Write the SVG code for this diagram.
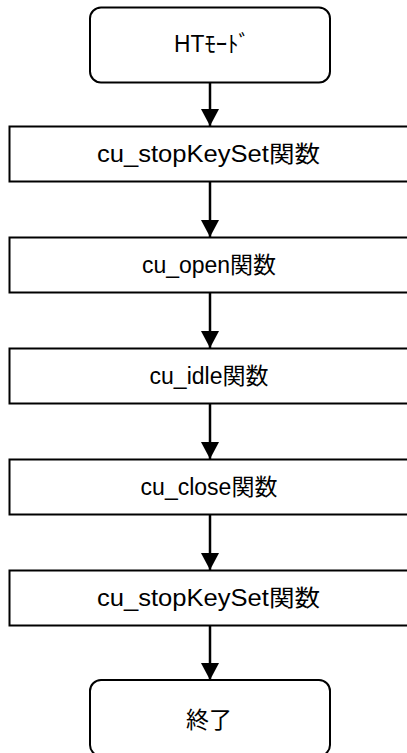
<svg xmlns="http://www.w3.org/2000/svg" width="407" height="753" viewBox="0 0 407 753">
<style>
.box{fill:#fff;stroke:#000;stroke-width:2}
.lbl{font-family:"Liberation Sans","Noto Sans CJK JP",sans-serif;font-size:23px;fill:#000;text-anchor:middle}
.edge{stroke:#000;stroke-width:2.5;fill:none}
</style>
<defs>
<marker id="arr" markerUnits="userSpaceOnUse" markerWidth="18" markerHeight="18" viewBox="0 0 18 18" refX="17" refY="9" orient="auto">
<path d="M0,0 L17,9 L0,18 Z" fill="#000"/>
</marker>
</defs>
<rect width="407" height="753" fill="#fff"/>
<g id="edges">
<line class="edge" x1="210" y1="82" x2="210" y2="126" marker-end="url(#arr)"/>
<line class="edge" x1="210" y1="182" x2="210" y2="237" marker-end="url(#arr)"/>
<line class="edge" x1="210" y1="293" x2="210" y2="348" marker-end="url(#arr)"/>
<line class="edge" x1="210" y1="404" x2="210" y2="459" marker-end="url(#arr)"/>
<line class="edge" x1="210" y1="515" x2="210" y2="570" marker-end="url(#arr)"/>
<line class="edge" x1="210" y1="626" x2="210" y2="680" marker-end="url(#arr)"/>
</g>
<g id="start">
<rect class="box" x="90" y="7.5" width="240" height="75" rx="11"/>
<text class="lbl" x="212" y="52" textLength="76" lengthAdjust="spacingAndGlyphs">HTﾓｰﾄﾞ</text>
</g>
<g id="n1">
<rect class="box" x="9.5" y="126.5" width="402" height="55"/>
<text class="lbl" x="208.5" y="162" textLength="223" lengthAdjust="spacingAndGlyphs">cu_stopKeySet関数</text>
</g>
<g id="n2">
<rect class="box" x="9.5" y="237.5" width="402" height="55"/>
<text class="lbl" x="209" y="273">cu_open関数</text>
</g>
<g id="n3">
<rect class="box" x="9.5" y="348.5" width="402" height="55"/>
<text class="lbl" x="209" y="384">cu_idle関数</text>
</g>
<g id="n4">
<rect class="box" x="9.5" y="459.5" width="402" height="55"/>
<text class="lbl" x="209" y="495">cu_close関数</text>
</g>
<g id="n5">
<rect class="box" x="9.5" y="570.5" width="402" height="55"/>
<text class="lbl" x="208.5" y="606" textLength="223" lengthAdjust="spacingAndGlyphs">cu_stopKeySet関数</text>
</g>
<g id="end">
<rect class="box" x="90" y="680" width="240" height="76" rx="11"/>
<text class="lbl" x="209" y="728">終了</text>
</g>
</svg>
